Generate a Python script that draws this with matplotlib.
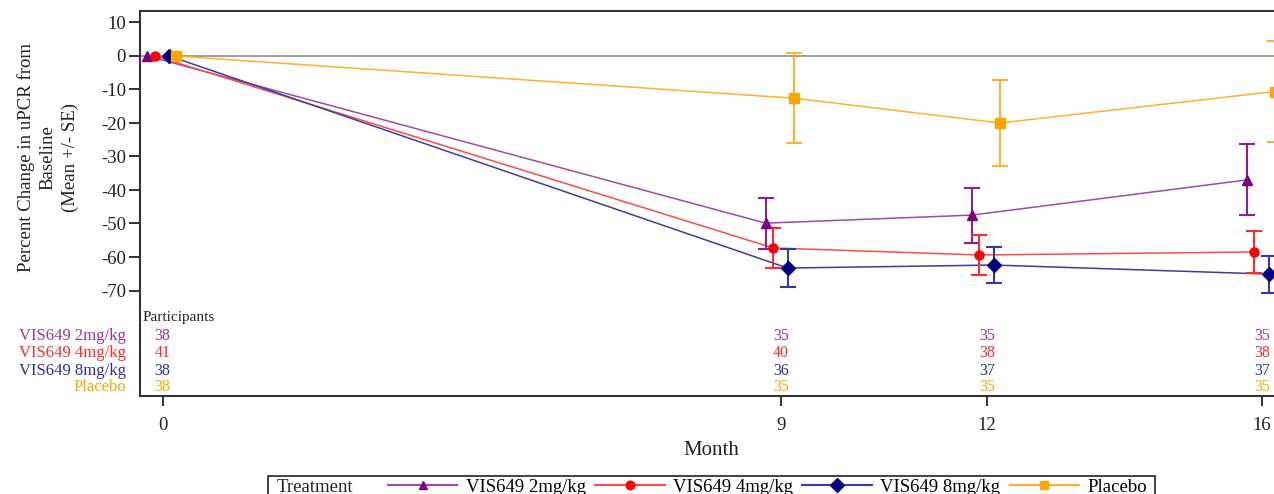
import numpy as np
import matplotlib
matplotlib.use("Agg")
import matplotlib.pyplot as plt
from matplotlib.lines import Line2D
from matplotlib.patches import Rectangle
from matplotlib.transforms import blended_transform_factory

plt.rcParams["font.family"] = ["Liberation Serif", "DejaVu Serif"]

# --- data -------------------------------------------------------------
months = [0, 9, 12, 16]
groups = ["VIS649 2mg/kg", "VIS649 4mg/kg", "VIS649 8mg/kg", "Placebo"]

mean_2mg = [0.0, -49.9, -47.5, -37.0]
se_2mg = [np.nan, 7.6, 8.2, 10.6]
mean_4mg = [0.0, -57.3, -59.4, -58.5]
se_4mg = [np.nan, 6.1, 6.0, 6.3]
mean_8mg = [0.0, -63.3, -62.4, -65.1]
se_8mg = [np.nan, 5.7, 5.5, 5.5]
mean_pbo = [0.0, -12.6, -20.0, -10.6]
se_pbo = [np.nan, 13.5, 12.7, 15.1]

n_2mg = [38, 35, 35, 35]
n_4mg = [41, 40, 38, 38]
n_8mg = [38, 36, 37, 37]
n_pbo = [38, 35, 35, 35]

y_ticks = [10, 0, -10, -20, -30, -40, -50, -60, -70]

# --- styling ----------------------------------------------------------
offsets = [-0.22, -0.11, 0.10, 0.19]
markers = ["^", "o", "D", "s"]
msizes = [6.5, 6.5, 7.5, 6.5]
mark_colors = ["#800080", "#FF0000", "#000080", "#FFA500"]
line_colors = ["#9A4DAA", "#FF4A4A", "#3C3CA0", "#FFB030"]
err_colors = ["#8B2090", "#FF2A2A", "#3535A5", "#FFB22E"]
text_colors = ["#9933A6", "#FF2A2A", "#2E2E9E", "#FFA500"]

means = [mean_2mg, mean_4mg, mean_8mg, mean_pbo]
ses = [se_2mg, se_4mg, se_8mg, se_pbo]
counts = [n_2mg, n_4mg, n_8mg, n_pbo]

W, H = 1274, 494
fig = plt.figure(figsize=(W / 100, H / 100), dpi=100)

ax_left, ax_right, ax_top, ax_bottom = 140, 1290, 11, 396
ax = fig.add_axes([ax_left / W, (H - ax_bottom) / H,
                   (ax_right - ax_left) / W, (ax_bottom - ax_top) / H])

px_per_month = 68.7
x0_px = 162.5
ax.set_xlim((ax_left - x0_px) / px_per_month, (ax_right - x0_px) / px_per_month)
px_per_unit = 3.35
y0_px = 56
ax.set_ylim(-(ax_bottom - y0_px) / px_per_unit, (y0_px - ax_top) / px_per_unit)

ax.axhline(0, color="#8C8C8C", lw=1.2, zorder=1)

for i in range(4):
    xs = np.array(months, dtype=float) + offsets[i]
    ax.plot(xs, means[i], color=line_colors[i], lw=1.1, zorder=2)
    ax.errorbar(xs, means[i], yerr=ses[i], fmt="none", ecolor=err_colors[i],
                elinewidth=1.5, capsize=6, capthick=1.5, zorder=3)
    ax.plot(xs, means[i], linestyle="none", marker=markers[i],
            markersize=msizes[i], color=mark_colors[i],
            markeredgecolor=mark_colors[i], zorder=4)

# participants table inside the plot frame
tr_data = blended_transform_factory(ax.transData, ax.transAxes)
tr_fig = blended_transform_factory(fig.transFigure, ax.transAxes)
ax.text(ax.get_xlim()[0] + 0.03, 0.203, "Participants", transform=tr_data,
        fontsize=11, color="#222222", ha="left", va="center")
row_y = [0.156, 0.112, 0.065, 0.023]
for i in range(4):
    for m, n in zip(months, counts[i]):
        ax.text(m, row_y[i], str(n), transform=tr_data, fontsize=11.5,
                color=text_colors[i], ha="center", va="center")
    ax.text(126 / W, row_y[i], groups[i], transform=tr_fig,
            fontsize=12, color=text_colors[i], ha="right", va="center")

ax.set_yticks(y_ticks)
ax.set_yticklabels([str(v) for v in y_ticks])
ax.set_xticks(months)
ax.set_xticklabels([str(m) for m in months])
ax.tick_params(axis="y", length=8, width=1.3, pad=2, labelsize=13.5,
               colors="#222222")
ax.tick_params(axis="x", length=7, width=1.3, pad=8, labelsize=13.5,
               colors="#222222")

for side in ["left", "top", "bottom"]:
    ax.spines[side].set_linewidth(1.5)
    ax.spines[side].set_color("#333333")
ax.spines["right"].set_visible(False)

fig.text(48 / W, 1 - 158 / H,
         "Percent Change in uPCR from\nBaseline\n(Mean +/- SE)",
         rotation=90, ha="center", va="center", fontsize=13.5,
         linespacing=1.35, color="#222222")
fig.text(711 / W, 1 - 450 / H, "Month", ha="center", va="center",
         fontsize=15, color="#222222")

# legend strip along the bottom
fig.add_artist(Rectangle((268 / W, -4 / H), 887 / W, 22 / H,
                         transform=fig.transFigure, fill=False,
                         edgecolor="#333333", lw=1.3))
fig.text(277 / W, 1 - 487 / H, "Treatment", ha="left", va="center",
         fontsize=13.5, color="#222222")
handles = [Line2D([], [], color=line_colors[i], lw=1.5, marker=markers[i],
                  markersize=msizes[i] * 0.95, markerfacecolor=mark_colors[i],
                  markeredgecolor=mark_colors[i]) for i in range(4)]
fig.legend(handles, groups, loc="center left",
           bbox_to_anchor=(388 / W, 1 - 487 / H), ncol=4, frameon=False,
           fontsize=13.5, handlelength=3.7, handletextpad=0.45,
           columnspacing=0.5, borderpad=0, borderaxespad=0)

fig.savefig("out.png", dpi=100)
